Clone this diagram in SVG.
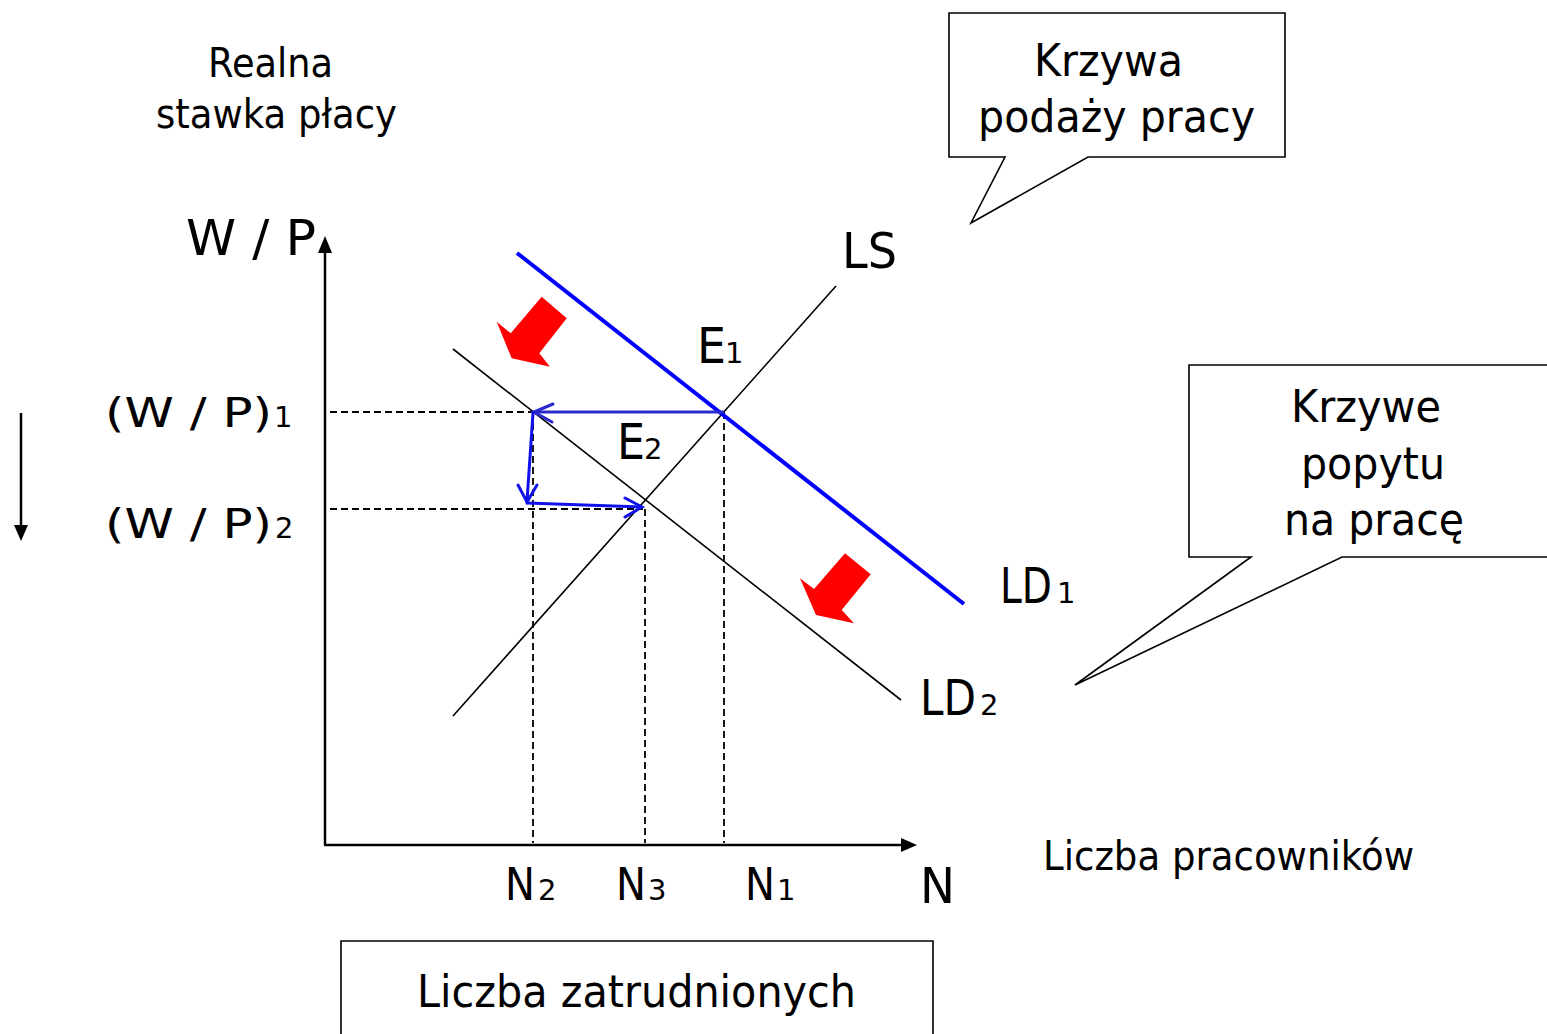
<svg xmlns="http://www.w3.org/2000/svg" width="1547" height="1034" viewBox="0 0 1547 1034">
<style>
text{font-family:"DejaVu Sans","Liberation Sans",sans-serif;fill:#000}
.t40{font-size:40px}
.t44{font-size:44px}
.t50{font-size:50px}
.sub{font-size:29px}
.thin{stroke:#000;stroke-width:1.6;fill:none}
.dash{stroke:#000;stroke-width:1.8;stroke-dasharray:7,4;fill:none}
.call{fill:#fff;stroke:#000;stroke-width:1.6}
.red{fill:#ff0000}
.barrow{fill:none;stroke-width:3;stroke-linecap:round}
</style>
<rect width="1547" height="1034" fill="#fff"/>
<g id="connectors">
  <line class="dash" x1="330" y1="412" x2="722" y2="412"/>
  <line class="dash" x1="330" y1="509" x2="643" y2="509"/>
  <line class="dash" x1="533" y1="412" x2="533" y2="843"/>
  <line class="dash" x1="645" y1="509" x2="645" y2="843"/>
  <line class="dash" x1="724" y1="412" x2="724" y2="843"/>
  <line class="thin" x1="453" y1="716" x2="836" y2="286"/>
  <line class="thin" x1="453" y1="349" x2="901" y2="700"/>
  <line x1="517" y1="253" x2="964" y2="604" stroke="#0000ff" stroke-width="4"/>
  <g class="barrow" stroke="#2a2acc">
    <line x1="723" y1="412" x2="534" y2="412"/>
    <polyline points="553,404 534,412 552,422"/>
  </g>
  <g class="barrow" stroke="#1010e8">
    <line x1="533" y1="413" x2="527" y2="501"/>
    <polyline points="518,485 527,502 537,485"/>
    <line x1="527" y1="503" x2="642" y2="507"/>
    <polyline points="625,498 642,507 625,517"/>
  </g>
  <g id="axes">
    <line x1="325" y1="845" x2="325" y2="250" stroke="#000" stroke-width="2.5"/>
    <polygon points="325,236 318,253 332,253" fill="#000"/>
    <line x1="324" y1="845" x2="903" y2="845" stroke="#000" stroke-width="2.5"/>
    <polygon points="917,845 901,838 901,852" fill="#000"/>
    <line x1="21" y1="413" x2="21" y2="527" stroke="#000" stroke-width="2.5"/>
    <polygon points="21,541 14,525 28,525" fill="#000"/>
  </g>
  <polygon class="red" points="541.7,296.7 566.7,318.3 539.3,353.3 550,366.7 511.7,358.3 496.7,321.7 510.7,333.3"/>
  <polygon class="red" points="845,553.3 870.7,574.3 841.7,610 854,623.3 816,615 800,578.3 814,589"/>
</g>
<g id="ylabel">
  <text class="t40" x="208" y="77" textLength="125" lengthAdjust="spacingAndGlyphs">Realna</text>
  <text class="t40" x="156" y="128" textLength="241" lengthAdjust="spacingAndGlyphs">stawka płacy</text>
  <text class="t50" x="186" y="255" textLength="130" lengthAdjust="spacingAndGlyphs">W / P</text>
</g>
<g id="wp1"><text y="427"><tspan class="t40" x="105" textLength="167" lengthAdjust="spacingAndGlyphs">(W / P)</tspan><tspan class="sub" x="274">1</tspan></text></g>
<g id="wp2"><text y="538"><tspan class="t40" x="105" textLength="167" lengthAdjust="spacingAndGlyphs">(W / P)</tspan><tspan class="sub" x="275">2</tspan></text></g>
<g id="ls"><text class="t50" x="842" y="268" textLength="55" lengthAdjust="spacingAndGlyphs">LS</text></g>
<g id="e1"><text y="363"><tspan class="t50" x="697" textLength="29" lengthAdjust="spacingAndGlyphs">E</tspan><tspan class="sub" x="725">1</tspan></text></g>
<g id="e2"><text y="459"><tspan class="t50" x="617" textLength="28" lengthAdjust="spacingAndGlyphs">E</tspan><tspan class="sub" x="644">2</tspan></text></g>
<g id="ld1"><text y="603"><tspan class="t50" x="1000" textLength="52" lengthAdjust="spacingAndGlyphs">LD</tspan><tspan class="sub" x="1057">1</tspan></text></g>
<g id="ld2"><text y="715"><tspan class="t50" x="920" textLength="56" lengthAdjust="spacingAndGlyphs">LD</tspan><tspan class="sub" x="980">2</tspan></text></g>
<g id="n2"><text y="900"><tspan class="t44" x="505" textLength="30" lengthAdjust="spacingAndGlyphs">N</tspan><tspan class="sub" x="538">2</tspan></text></g>
<g id="n3"><text y="900"><tspan class="t44" x="616" textLength="30" lengthAdjust="spacingAndGlyphs">N</tspan><tspan class="sub" x="648">3</tspan></text></g>
<g id="n1"><text y="900"><tspan class="t44" x="745" textLength="30" lengthAdjust="spacingAndGlyphs">N</tspan><tspan class="sub" x="777">1</tspan></text></g>
<g id="n"><text class="t50" x="920" y="903" textLength="35" lengthAdjust="spacingAndGlyphs">N</text></g>
<g id="xlabel"><text class="t40" x="1043" y="870" textLength="371" lengthAdjust="spacingAndGlyphs">Liczba pracowników</text></g>
<g id="callout-supply">
  <path class="call" d="M949,13 H1285 V157 H1088 L971,223 L1005,157 H949 Z"/>
  <text class="t44" x="1034" y="76" textLength="149" lengthAdjust="spacingAndGlyphs">Krzywa</text>
  <text class="t44" x="978" y="132" textLength="277" lengthAdjust="spacingAndGlyphs">podaży pracy</text>
</g>
<g id="callout-demand">
  <path class="call" d="M1189,365 H1550 V557 H1342 L1075,685 L1251,557 H1189 Z"/>
  <text class="t44" x="1291" y="422" textLength="150" lengthAdjust="spacingAndGlyphs">Krzywe</text>
  <text class="t44" x="1301" y="479" textLength="144" lengthAdjust="spacingAndGlyphs">popytu</text>
  <text class="t44" x="1284" y="535" textLength="180" lengthAdjust="spacingAndGlyphs">na pracę</text>
</g>
<g id="box-employed">
  <path class="call" d="M341,1040 V941 H933 V1040"/>
  <text class="t44" x="417" y="1007" textLength="439" lengthAdjust="spacingAndGlyphs">Liczba zatrudnionych</text>
</g>
</svg>
